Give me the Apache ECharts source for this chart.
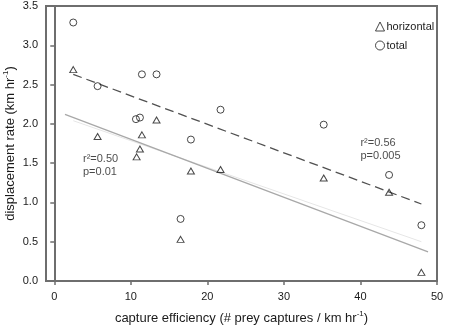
<!DOCTYPE html>
<html>
<head>
<meta charset="utf-8">
<script src="https://cdn.jsdelivr.net/npm/echarts@6/dist/echarts.min.js"></script>
<style>html,body{margin:0;padding:0;background:#fff}#c{width:454px;height:327px}</style>
</head>
<body>
<div id="c"></div>
<script>
// capture efficiency values (x)
var xValues = [2.48, 5.66, 11.45, 13.36, 10.67, 11.19, 21.72, 17.85, 16.5, 35.2, 43.74, 47.96];
var totalY = [3.29, 2.48, 2.63, 2.63, 2.06, 2.08, 2.18, 1.80, 0.79, 1.99, 1.35, 0.71];
var horizX = [2.48, 5.66, 13.36, 11.45, 11.19, 10.76, 17.85, 21.72, 16.5, 35.2, 43.74, 47.96];
var horizY = [2.69, 1.84, 2.05, 1.86, 1.68, 1.58, 1.40, 1.42, 0.53, 1.31, 1.13, 0.11];
// regression lines: [x1,y1],[x2,y2]
var totalFit = [[2.48, 2.63], [47.96, 0.98]];
var horizFit = [[1.40, 2.12], [48.83, 0.37]];
var faintFit = [[2.48, 2.04], [47.96, 0.50]];
var xTicks = [0, 10, 20, 30, 40, 50];
var annotations = [
  {x: 3.75, y: 1.64, text: 'r\u00b2=0.50\np=0.01'},
  {x: 40.0, y: 1.84, text: 'r\u00b2=0.56\np=0.005'}
];
var seriesNames = ['horizontal', 'total'];

var FONT = '"Liberation Sans", Arial, sans-serif';
var AX = '#6e6e6e';
var chart = echarts.init(document.getElementById('c'), null, {renderer: 'canvas'});

function pairs(xs, ys) { return xs.map(function (x, i) { return [x, ys[i]]; }); }

var markStyle = {color: 'rgba(0,0,0,0)', borderColor: '#1a1a1a', borderWidth: 1};

chart.setOption({
  animation: false,
  textStyle: {fontFamily: FONT},
  grid: {left: 46, right: 17, top: 6, bottom: 46, show: true, borderColor: AX, borderWidth: 2,
    backgroundColor: 'transparent', containLabel: false, outerBoundsMode: 'none'},
  legend: {
    orient: 'vertical', left: 375, top: 21, padding: 0,
    itemWidth: 9, itemHeight: 9, itemGap: 8,
    textStyle: {fontFamily: FONT, fontSize: 11, color: '#1a1a1a', padding: [0, 0, 0, -3]},
    data: [
      {name: seriesNames[0], icon: 'triangle', itemStyle: markStyle},
      {name: seriesNames[1], icon: 'circle', itemStyle: markStyle}
    ]
  },
  xAxis: {
    type: 'value', min: -1.08, max: 50,
    name: '{a|capture efficiency (# prey captures / km hr}{s|-1}{a|)}',
    nameLocation: 'middle', nameGap: 29, nameMoveOverlap: false,
    nameTextStyle: {rich: {
      a: {fontFamily: FONT, fontSize: 13, color: '#1a1a1a'},
      s: {fontFamily: FONT, fontSize: 8, color: '#1a1a1a', padding: [0, 0, 8, 0]}
    }},
    splitLine: {show: false},
    axisLine: {lineStyle: {color: AX, width: 2}},
    axisTick: {show: true, length: 4, lineStyle: {color: AX, width: 1.5}, customValues: xTicks},
    axisLabel: {customValues: xTicks, margin: 10, fontSize: 11, color: '#1a1a1a', fontFamily: FONT}
  },
  yAxis: {
    type: 'value', min: 0, max: 3.5, interval: 0.5,
    name: '{a|displacement rate (km hr}{s|-1}{a|)}',
    nameLocation: 'middle', nameGap: 28, nameMoveOverlap: false,
    nameTextStyle: {rich: {
      a: {fontFamily: FONT, fontSize: 13, color: '#1a1a1a'},
      s: {fontFamily: FONT, fontSize: 8, color: '#1a1a1a', padding: [0, 0, 8, 0]}
    }},
    splitLine: {show: false},
    axisLine: {lineStyle: {color: AX, width: 2}},
    axisTick: {show: true, length: 4, lineStyle: {color: AX, width: 1.5}},
    axisLabel: {margin: 8, fontSize: 11, color: '#1a1a1a', fontFamily: FONT,
      formatter: function (v) { return v.toFixed(1); }}
  },
  series: [
    {type: 'line', data: faintFit, symbol: 'none', silent: true, z: 1,
      lineStyle: {color: '#e6e6e6', width: 1}},
    {type: 'line', data: horizFit, symbol: 'none', silent: true, z: 2,
      lineStyle: {color: '#a8a8a8', width: 1.3}},
    {type: 'line', data: totalFit, symbol: 'none', silent: true, z: 2,
      lineStyle: {color: '#505050', width: 1.3, type: [9, 5]}},
    {name: seriesNames[0], type: 'scatter', data: pairs(horizX, horizY), symbol: 'triangle',
      symbolSize: [7, 6], itemStyle: markStyle, z: 5},
    {name: seriesNames[1], type: 'scatter', data: pairs(xValues, totalY), symbol: 'circle',
      symbolSize: 7, itemStyle: markStyle, z: 5},
    {type: 'scatter', symbolSize: 0, silent: true, z: 6,
      data: annotations.map(function (a) { return {value: [a.x, a.y], label: {formatter: a.text}}; }),
      label: {show: true, position: [0, 0], align: 'left', verticalAlign: 'top',
        fontFamily: FONT, fontSize: 11, lineHeight: 13, color: '#1a1a1a'}}
  ]
});
</script>
</body>
</html>
